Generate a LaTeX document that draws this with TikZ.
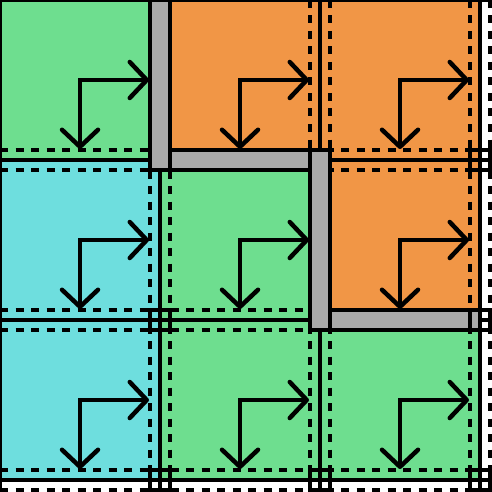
\documentclass[tikz,border=0pt]{standalone}
\usepackage{tikz}
\usetikzlibrary{arrows.meta}

\definecolor{cellgreen}{RGB}{110,222,143}
\definecolor{cellorange}{RGB}{241,150,70}
\definecolor{cellcyan}{RGB}{110,222,222}
\definecolor{wallgray}{RGB}{170,170,170}

\begin{document}
\begin{tikzpicture}[x=1pt, y=-1pt,
    >={Straight Barb[length=17pt, width=36pt, round]},
    gridline/.style={line width=4.5pt},
    halo/.style={line width=4.5pt, dash pattern=on 8pt off 7.5pt},
    wall/.style={fill=wallgray, draw=black, line width=4.5pt},
    cornerbox/.style={draw=black, line width=4.5pt},
    flow/.style={<->, line width=4.5pt}]
  \useasboundingbox (0,0) rectangle (492,492);
  \clip (0,0) rectangle (492,492);
  \fill[white] (0,0) rectangle (492,492);

  % Cells
  \foreach \col/\row/\clr in {0/0/cellgreen, 1/0/cellorange, 2/0/cellorange,
                              0/1/cellcyan,  1/1/cellgreen,  2/1/cellorange,
                              0/2/cellcyan,  1/2/cellgreen,  2/2/cellgreen}
    \fill[\clr] (160*\col,160*\row) rectangle ++(160,160);

  % Grid lines
  \foreach \p in {0,160,320,480} {
    \draw[gridline] (\p,0) -- (\p,492);
    \draw[gridline] (0,\p) -- (492,\p);
  }

  % Dashed halo lines
  \foreach \p in {150,170,310,330,470,490} {
    \draw[halo] (\p,0) -- (\p,492);
    \draw[halo] (0,\p) -- (492,\p);
  }

  % Walls
  \draw[wall] (310,310) rectangle (480,330);
  \draw[wall] (150,150) rectangle (330,170);
  \draw[wall] (310,150) rectangle (330,330);
  \draw[wall] (150,0) rectangle (170,170);

  % Corner boxes
  \foreach \cx/\cy in {160/320, 160/480, 320/480, 480/160, 480/320, 480/480}
    \draw[cornerbox] (\cx-10,\cy-10) rectangle (\cx+10,\cy+10);

  % Flow arrows
  \foreach \col in {0,1,2}
    \foreach \row in {0,1,2} {
      \coordinate (mid) at (160*\col+80,160*\row+80);
      \coordinate (east) at (160*\col+149,160*\row+80);
      \coordinate (south) at (160*\col+80,160*\row+149);
      \draw[flow] (east) -- (mid) -- (south);
    }
\end{tikzpicture}
\end{document}
